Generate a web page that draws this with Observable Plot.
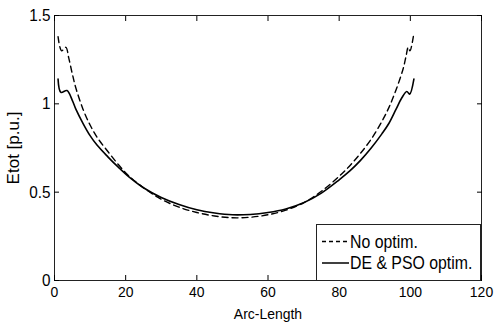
<!DOCTYPE html>
<html>
<head>
<meta charset="utf-8">
<script src="https://cdn.jsdelivr.net/npm/d3@7"></script>
<script src="https://cdn.jsdelivr.net/npm/@observablehq/plot@0.6"></script>
<style>
  html, body { margin: 0; padding: 0; background: #fff; }
  #wrap { position: relative; width: 495px; height: 324px; }
  #legend { position: absolute; left: 316px; top: 224px; overflow: visible; }
</style>
</head>
<body>
<div id="wrap"></div>
<script>
// ---- data ----
const seriesNames = ["No optim.", "DE & PSO optim."];
const seriesDash = ["6,4", null];

const arcNoOpt = [1, 2, 3.2, 4, 5, 6, 8, 10, 12, 15, 18, 21, 25, 30, 35, 40, 45, 50, 55, 60, 65, 70, 75, 80, 83, 86, 89, 92, 94, 96, 98, 98.8, 99.4, 99.9, 101];
const etotNoOpt = [1.38, 1.30, 1.32, 1.26, 1.17, 1.09, 0.97, 0.88, 0.81, 0.73, 0.655, 0.59, 0.525, 0.46, 0.415, 0.385, 0.365, 0.355, 0.358, 0.372, 0.398, 0.44, 0.505, 0.59, 0.65, 0.72, 0.80, 0.90, 0.98, 1.08, 1.20, 1.27, 1.32, 1.30, 1.40];

const arcOpt = [1, 1.8, 3.5, 5, 6, 8, 10, 12, 15, 18, 21, 25, 30, 35, 40, 45, 50, 55, 60, 65, 70, 75, 80, 83, 86, 89, 92, 94, 96, 97.5, 99, 99.8, 101];
const etotOpt = [1.14, 1.065, 1.075, 1.02, 0.97, 0.89, 0.82, 0.765, 0.70, 0.64, 0.585, 0.525, 0.47, 0.43, 0.40, 0.382, 0.372, 0.374, 0.385, 0.405, 0.44, 0.495, 0.57, 0.62, 0.68, 0.75, 0.83, 0.89, 0.97, 1.03, 1.07, 1.055, 1.14];

const xTicks = [0, 20, 40, 60, 80, 100, 120];
const yTicks = [0, 0.5, 1, 1.5];
const xLabel = "Arc-Length";
const yLabel = "Etot [p.u.]";

const rows = [
  ...arcNoOpt.map((a, i) => ({arc: a, etot: etotNoOpt[i], series: seriesNames[0]})),
  ...arcOpt.map((a, i) => ({arc: a, etot: etotOpt[i], series: seriesNames[1]}))
];

const font = "'Liberation Sans', Arial, Helvetica, sans-serif";

const chart = Plot.plot({
  width: 495,
  height: 324,
  marginLeft: 54,
  marginRight: 14,
  marginTop: 15,
  marginBottom: 44,
  style: {fontFamily: font, fontSize: "17px", background: "#fff", color: "#000"},
  x: {domain: [0, 120]},
  y: {domain: [0, 1.5]},
  marks: [
    Plot.line(rows.filter(d => d.series === seriesNames[0]), {x: "arc", y: "etot", stroke: "#000", strokeWidth: 1.4, strokeDasharray: seriesDash[0], curve: "catmull-rom"}),
    Plot.line(rows.filter(d => d.series === seriesNames[1]), {x: "arc", y: "etot", stroke: "#000", strokeWidth: 1.6, curve: "catmull-rom"}),
    Plot.frame({stroke: "#222", strokeWidth: 1}),
    Plot.axisX({anchor: "bottom", ticks: xTicks, tickSize: -5, tickPadding: 10, label: xLabel, labelArrow: "none", labelAnchor: "center", labelOffset: 38, fontSize: 15.5}),
    Plot.axisX({anchor: "top", ticks: xTicks, tickSize: -5, tickFormat: () => "", label: null}),
    Plot.axisY({anchor: "left", ticks: yTicks, tickSize: -5, tickPadding: 9, tickFormat: d => String(d), label: yLabel, labelArrow: "none", labelAnchor: "center", labelOffset: 48, fontSize: 17}),
    Plot.axisY({anchor: "right", ticks: yTicks, tickSize: -5, tickFormat: () => "", label: null})
  ]
});
document.getElementById("wrap").appendChild(chart);

// legend
const lw = 164, lh = 56;
const leg = d3.select("#wrap").append("svg")
  .attr("id", "legend").attr("width", lw + 14).attr("height", lh + 1)
  .style("font-family", font).style("font-size", "18px");
leg.append("rect").attr("x", 0.5).attr("y", 0.5).attr("width", lw).attr("height", lh)
  .attr("fill", "#fff").attr("stroke", "#222");
seriesNames.forEach((name, i) => {
  const cy = 17.5 + i * 21.5;
  leg.append("line").attr("x1", 6).attr("x2", 33).attr("y1", cy).attr("y2", cy)
    .attr("stroke", "#000").attr("stroke-width", 1.5)
    .attr("stroke-dasharray", seriesDash[i] ? "4,3" : null);
  leg.append("text").attr("x", 34).attr("y", cy).attr("dy", "0.35em").text(name);
});

// narrow the glyphs (reference uses a condensed Helvetica rendering)
function squeeze(sel, f) {
  sel.each(function () {
    const texts = this.tagName === "text" && !this.querySelector("tspan") ? [this] : Array.from(this.querySelectorAll("tspan"));
    texts.forEach(t => {
      const w = t.getComputedTextLength();
      if (w > 0) { t.setAttribute("textLength", (w * f).toFixed(2)); t.setAttribute("lengthAdjust", "spacingAndGlyphs"); }
    });
  });
}
const svg = d3.select(chart);
svg.selectAll("text").each(function () {
  const isY = (this.getAttribute("transform") || "").includes("rotate");
  if (!isY) squeeze(d3.select(this), 0.9);
});
squeeze(leg.selectAll("text"), 0.88);
</script>
</body>
</html>
